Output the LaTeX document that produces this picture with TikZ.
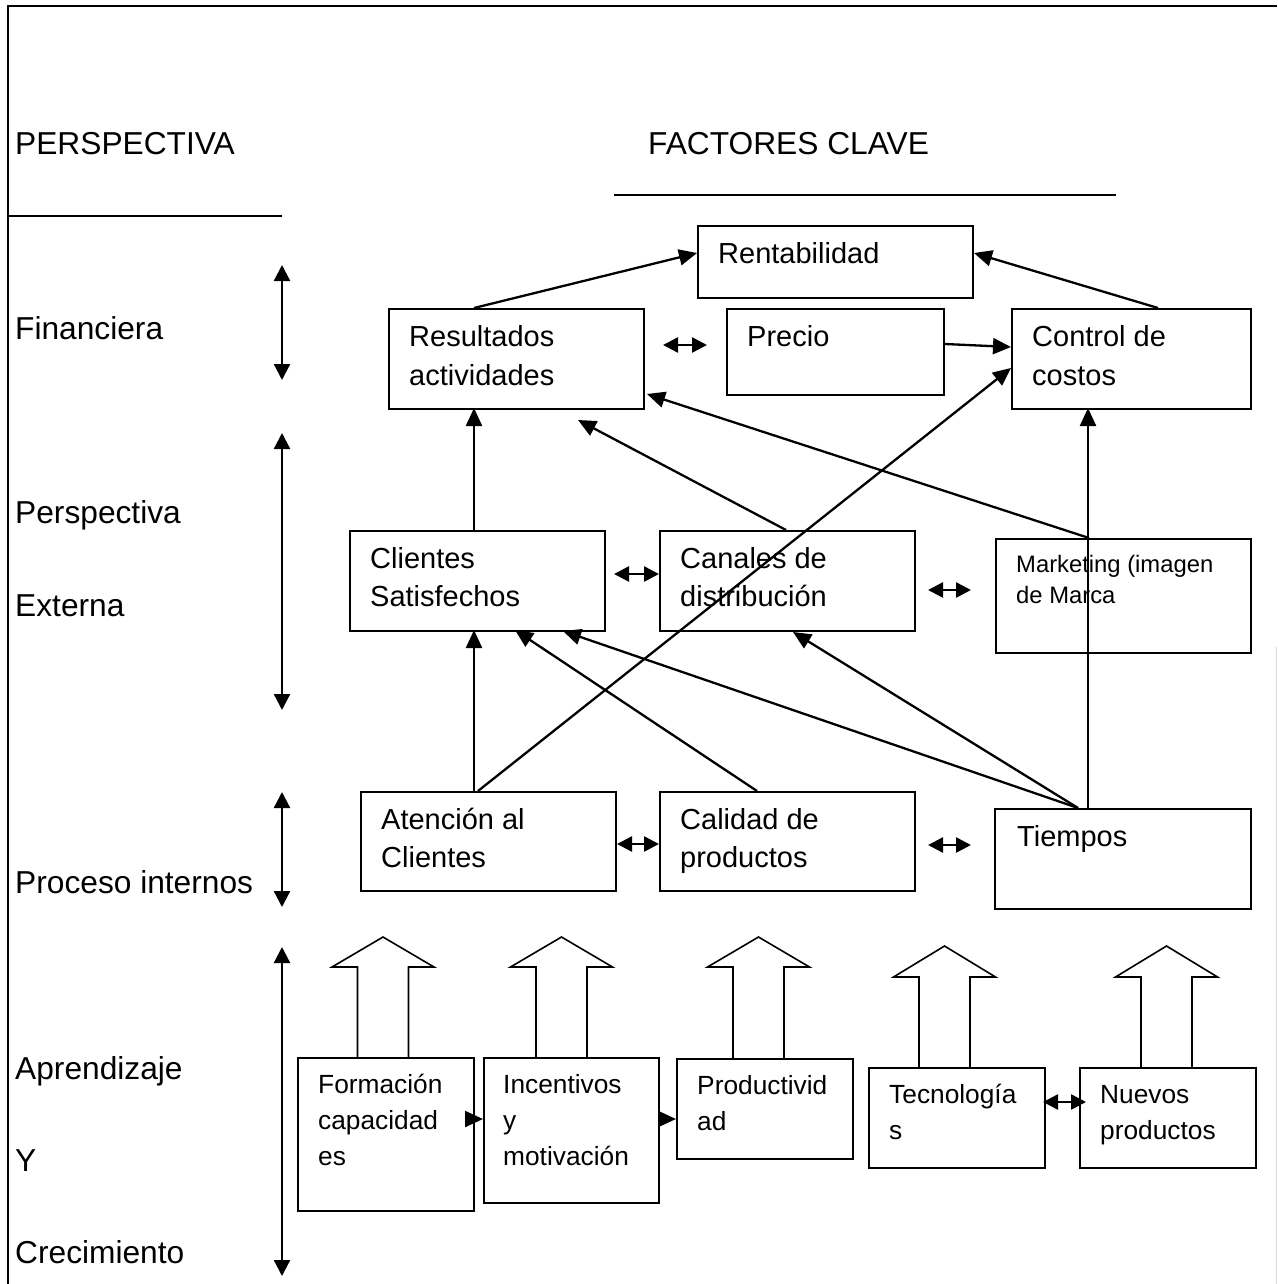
\documentclass[tikz,border=0pt]{standalone}
\usepackage{fontspec}
\setmainfont{Liberation Sans}
\usetikzlibrary{arrows.meta,calc}
\begin{document}
\begin{tikzpicture}[x=1pt,y=-1pt,
  bx/.style={draw, line width=2pt, inner sep=0pt, anchor=north west, rectangle},
  lab/.style={anchor=base west, inner sep=0pt, font=\fontsize{31.7}{38}\selectfont},
  btxt/.style={anchor=base west, inner sep=0pt, font=\fontsize{29}{38}\selectfont},
  stxt/.style={anchor=base west, inner sep=0pt, font=\fontsize{26.3}{36}\selectfont},
  mtxt/.style={anchor=base west, inner sep=0pt, font=\fontsize{23.8}{31}\selectfont},
  conn/.style={line width=2.3pt, -{Triangle[length=18pt,width=16pt]}},
  dbl/.style={line width=2.5pt, {Triangle[length=15pt,width=15pt]}-{Triangle[length=15pt,width=15pt]}},
  vdbl/.style={line width=2.3pt, {Triangle[length=16pt,width=16pt]}-{Triangle[length=16pt,width=16pt]}},
  blk/.style={draw, line width=1.6pt, line join=miter},
  rule/.style={line width=1.8pt}
]
\useasboundingbox (0,0) rectangle (1277,1284);

% frame
\coordinate (ftl) at (8,6);
\coordinate (ftr) at (1277,6);
\coordinate (fbl) at (8,1284);
\draw[line width=1.6pt] (ftr) -- (ftl) -- (fbl);
\coordinate (gr1) at (1276.5,647);
\coordinate (gr2) at (1276.5,1284);
\draw[line width=1pt, black!15] (gr1) -- (gr2);

% headers
\node[lab] (hper) at (15,155) {PERSPECTIVA};
\node[lab] (hfac) at (648,155) {FACTORES CLAVE};
\coordinate (r1a) at (8,216); \coordinate (r1b) at (282,216);
\coordinate (r2a) at (614,195); \coordinate (r2b) at (1116,195);
\draw[rule] (r1a) -- (r1b);
\draw[rule] (r2a) -- (r2b);

% left labels
\node[lab] (lfin) at (15,339) {Financiera};
\node[lab] (lper) at (15,523) {Perspectiva};
\node[lab] (lext) at (15,616) {Externa};
\node[lab] (lpro) at (15,893) {Proceso internos};
\node[lab] (lapr) at (15,1079) {Aprendizaje};
\node[lab] (ly) at (15,1171) {Y};
\node[lab] (lcre) at (15,1263) {Crecimiento};

% left vertical double arrows
\coordinate (v1a) at (282,265); \coordinate (v1b) at (282,380);
\coordinate (v2a) at (282,433); \coordinate (v2b) at (282,710);
\coordinate (v3a) at (282,792); \coordinate (v3b) at (282,907);
\coordinate (v4a) at (282,947); \coordinate (v4b) at (282,1276);
\draw[vdbl] (v1a) -- (v1b);
\draw[vdbl] (v2a) -- (v2b);
\draw[vdbl] (v3a) -- (v3b);
\draw[vdbl] (v4a) -- (v4b);

% boxes
\node[bx, minimum width=275pt, minimum height=72pt] (rent) at (697,225) {};
\node[bx, minimum width=255pt, minimum height=100pt] (res) at (388,308) {};
\node[bx, minimum width=217pt, minimum height=86pt] (pre) at (726,308) {};
\node[bx, minimum width=239pt, minimum height=100pt] (con) at (1011,308) {};
\node[bx, minimum width=255pt, minimum height=100pt] (cli) at (349,530) {};
\node[bx, minimum width=255pt, minimum height=100pt] (can) at (659,530) {};
\node[bx, minimum width=255pt, minimum height=114pt] (mkt) at (995,538) {};
\node[bx, minimum width=255pt, minimum height=99pt] (ate) at (360,791) {};
\node[bx, minimum width=255pt, minimum height=99pt] (cal) at (659,791) {};
\node[bx, minimum width=256pt, minimum height=100pt] (tie) at (994,808) {};
\node[bx, minimum width=176pt, minimum height=153pt] (form) at (297,1057) {};
\node[bx, minimum width=175pt, minimum height=145pt] (inc) at (483,1057) {};
\node[bx, minimum width=176pt, minimum height=100pt] (prod) at (676,1058) {};
\node[bx, minimum width=176pt, minimum height=100pt] (tec) at (868,1067) {};
\node[bx, minimum width=176pt, minimum height=100pt] (nue) at (1079,1067) {};

% box texts
\node[btxt] (t1) at ($(rent.north west)+(21,38)$) {Rentabilidad};
\node[btxt] (t2) at ($(res.north west)+(21,38)$) {Resultados};
\node[btxt] (t3) at ($(res.north west)+(21,77)$) {actividades};
\node[btxt] (t4) at ($(pre.north west)+(21,38)$) {Precio};
\node[btxt] (t5) at ($(con.north west)+(21,38)$) {Control de};
\node[btxt] (t6) at ($(con.north west)+(21,77)$) {costos};
\node[btxt] (t7) at ($(cli.north west)+(21,38)$) {Clientes};
\node[btxt] (t8) at ($(cli.north west)+(21,76)$) {Satisfechos};
\node[btxt] (t9) at ($(can.north west)+(21,38)$) {Canales de};
\node[btxt] (t10) at ($(can.north west)+(21,76)$) {distribución};
\node[mtxt] (t11) at ($(mkt.north west)+(21,34)$) {Marketing (imagen};
\node[mtxt] (t12) at ($(mkt.north west)+(21,65)$) {de Marca};
\node[btxt] (t13) at ($(ate.north west)+(21,38)$) {Atención al};
\node[btxt] (t14) at ($(ate.north west)+(21,76)$) {Clientes};
\node[btxt] (t15) at ($(cal.north west)+(21,38)$) {Calidad de};
\node[btxt] (t16) at ($(cal.north west)+(21,76)$) {productos};
\node[btxt] (t17) at ($(tie.north west)+(23,38)$) {Tiempos};
\node[stxt] (t18) at ($(form.north west)+(21,36)$) {Formación};
\node[stxt] (t19) at ($(form.north west)+(21,72)$) {capacidad};
\node[stxt] (t20) at ($(form.north west)+(21,108)$) {es};
\node[stxt] (t21) at ($(inc.north west)+(20,36)$) {Incentivos};
\node[stxt] (t22) at ($(inc.north west)+(20,72)$) {y};
\node[stxt] (t23) at ($(inc.north west)+(20,108)$) {motivación};
\node[stxt] (t24) at ($(prod.north west)+(21,36)$) {Productivid};
\node[stxt] (t25) at ($(prod.north west)+(21,72)$) {ad};
\node[stxt] (t26) at ($(tec.north west)+(21,36)$) {Tecnología};
\node[stxt] (t27) at ($(tec.north west)+(21,72)$) {s};
\node[stxt] (t28) at ($(nue.north west)+(21,36)$) {Nuevos};
\node[stxt] (t29) at ($(nue.north west)+(21,72)$) {productos};

% connectors
\draw[conn] ($(res.north west)+(86,0)$) -- ($(rent.north west)+(0,28)$);
\draw[conn] ($(con.north west)+(147,0)$) -- ($(rent.north east)+(0,28)$);
\draw[conn] ($(pre.north east)+(0,36)$) -- ($(con.north west)+(0,39)$);
\draw[dbl] ($(res.north east)+(18,37)$) -- ($(pre.north west)+(-19,37)$);
\draw[conn] ($(cli.north west)+(125,0)$) -- ($(res.north west)+(86,100)$);
\coordinate (resTip) at ($(res.north west)+(190,112)$);
\draw[conn] ($(can.north west)+(127,0)$) -- (resTip);
\draw[conn] ($(mkt.north west)+(94,0)$) -- ($(res.north east)+(2,86)$);
\draw[conn] ($(tie.north west)+(94,0)$) -- ($(con.north west)+(77,100)$);
\draw[conn] ($(ate.north west)+(118,0)$) -- ($(con.north west)+(0,60)$);
\draw[conn] ($(ate.north west)+(114,0)$) -- ($(cli.north west)+(125,100)$);
\draw[conn] ($(cal.north west)+(98,0)$) -- ($(cli.north west)+(166,100)$);
\draw[conn] ($(tie.north west)+(84,0)$) -- ($(cli.north west)+(214,101)$);
\draw[conn] ($(tie.north west)+(84,0)$) -- ($(can.north west)+(134,102)$);
\draw[dbl] ($(cli.north east)+(8,44)$) -- ($(can.north west)+(0,44)$);
\draw[dbl] ($(can.north east)+(12,60)$) -- ($(mkt.north west)+(-24,52)$);
\draw[dbl] ($(ate.north east)+(0,53)$) -- ($(cal.north west)+(0,53)$);
\draw[dbl] ($(cal.north east)+(12,54)$) -- ($(tie.north west)+(-23,37)$);
\draw[conn] ($(form.north east)+(-9,62)$) -- ($(inc.north west)+(0,62)$);
\draw[conn] ($(inc.north east)+(0,62)$) -- ($(prod.north west)+(0,61)$);
\draw[dbl] ($(tec.north east)+(-3,35)$) -- ($(nue.north west)+(7,35)$);

% block arrows
\draw[blk] ($(form.north west)+(60.5,0)$) -- ++(0,-90) -- ++(-25.5,0) -- ++(51,-30) -- ++(51,30) -- ++(-25.5,0) -- ++(0,90);
\draw[blk] ($(inc.north west)+(53,0)$) -- ++(0,-90) -- ++(-25.5,0) -- ++(51,-30) -- ++(51,30) -- ++(-25.5,0) -- ++(0,90);
\draw[blk] ($(prod.north west)+(57,0)$) -- ++(0,-91) -- ++(-25.5,0) -- ++(51,-30) -- ++(51,30) -- ++(-25.5,0) -- ++(0,91);
\draw[blk] ($(tec.north west)+(51,0)$) -- ++(0,-90) -- ++(-25.5,0) -- ++(51,-31) -- ++(51,31) -- ++(-25.5,0) -- ++(0,90);
\draw[blk] ($(nue.north west)+(62,0)$) -- ++(0,-90) -- ++(-25.5,0) -- ++(51,-31) -- ++(51,31) -- ++(-25.5,0) -- ++(0,90);
\end{tikzpicture}
\end{document}
